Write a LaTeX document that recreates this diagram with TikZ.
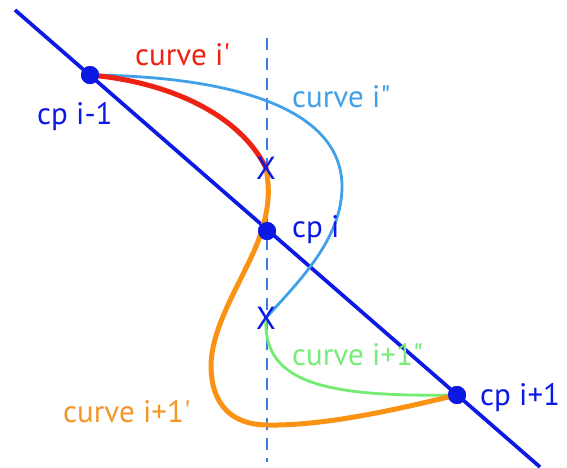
\documentclass[tikz,border=0pt]{standalone}
\usepackage{fontspec}
\setmainfont{PT Sans}
\begin{document}
\begin{tikzpicture}[x=1pt,y=-1pt,
  cpblue/.style={color={rgb,255:red,12;green,24;blue,228}},
  axisline/.style={cpblue,line width=3.7pt},
  dashline/.style={draw={rgb,255:red,58;green,125;blue,224},line width=2.5pt,dash pattern=on 12pt off 8pt},
  redcurve/.style={draw={rgb,255:red,238;green,34;blue,18},line width=5pt,line cap=round},
  orangecurve/.style={draw={rgb,255:red,250;green,146;blue,20},line width=5pt,line cap=round},
  lbluecurve/.style={draw={rgb,255:red,64;green,160;blue,232},line width=2.8pt},
  greencurve/.style={draw={rgb,255:red,112;green,236;blue,112},line width=2.8pt},
  dot/.style={circle,fill={rgb,255:red,12;green,24;blue,228},inner sep=0pt,minimum size=18pt},
  lab/.style={anchor=base west,inner sep=0pt,font=\fontsize{31}{32}\selectfont},
  xmark/.style={cpblue,inner sep=0pt,font=\fontsize{32}{32}\selectfont}
]
\useasboundingbox (0,0) rectangle (567,467);
% guide lines
\coordinate (dtop) at (267,38);
\coordinate (dbot) at (267,462);
\draw[dashline] (dtop) -- (dbot);
\coordinate (ltop) at (15,10);
\coordinate (lbot) at (540,467);
\draw[axisline] (ltop) -- (lbot);
% control points
\node[dot] (cpa) at (90,75) {};
\node[dot] (cpb) at (267,231) {};
\node[dot] (cpc) at (457,395) {};
\coordinate (xa) at (266,168);
\coordinate (xb) at (266,318);
% curves
\draw[lbluecurve] (cpa.center) .. controls (210,76) and (340,100) .. (342,185)
   .. controls (343,240) and (295,285) .. (xb);
\draw[greencurve] (xb) .. controls (262,385) and (330,397) .. (cpc.center);
\draw[orangecurve] (xa) .. controls (271,195) and (267,212) .. (262,230)
   .. controls (250,270) and (212,320) .. (211,365)
   .. controls (211,405) and (232,425) .. (268,425)
   .. controls (330,426) and (410,406) .. (cpc.center);
\draw[redcurve] (cpa.center) .. controls (170,82) and (240,115) .. (xa);
% dots on top
\node[dot] at (cpa) {};
\node[dot] at (cpb) {};
\node[dot] at (cpc) {};
% X marks
\node[xmark] (xma) at (xa) {X};
\node[xmark] (xmb) at (xb) {X};
% labels
\node[lab,color={rgb,255:red,238;green,34;blue,18}] (lcurvei) at (135,65) {curve i\textquotesingle};
\node[lab,cpblue] (lcpa) at (37,124) {cp i-1};
\node[lab,color={rgb,255:red,64;green,160;blue,232}] (lcurveii) at (292,107) {curve i\textquotedbl};
\node[lab,cpblue] (lcpb) at (292,237) {cp i};
\node[lab,color={rgb,255:red,120;green,236;blue,120}] (lcurveiii) at (292,365) {curve i+1\textquotedbl};
\node[lab,cpblue] (lcpc) at (480,405) {cp i+1};
\node[lab,color={rgb,255:red,242;green,150;blue,40}] (lcurveiv) at (63,422) {curve i+1\textquotesingle};
\end{tikzpicture}
\end{document}
